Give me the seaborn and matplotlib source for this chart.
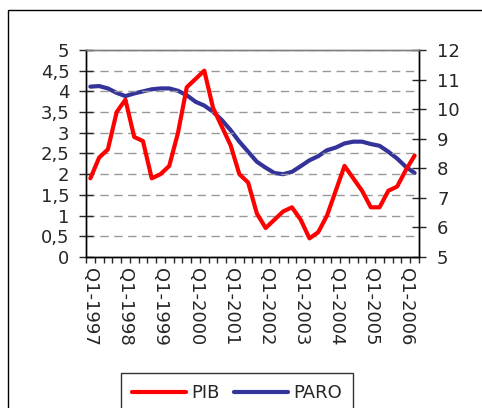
#PIB vs PARO, quarterly 1997-2006, two y axes
import pandas as pd
import numpy as np
import matplotlib
matplotlib.use("Agg")
import matplotlib.pyplot as plt
import seaborn as sns
from matplotlib.ticker import FuncFormatter, FixedLocator

# quarters Q1-1997 .. Q2-2006
years = list(range(1997, 2007))
quarters = [f"Q{q}-{y}" for y in years for q in range(1, 5)][:38]

pib = [1.9, 2.4, 2.6, 3.5, 3.8, 2.9, 2.8, 1.9, 2.0, 2.2,
       3.0, 4.1, 4.3, 4.5, 3.6, 3.15, 2.7, 2.0, 1.8, 1.05,
       0.7, 0.9, 1.1, 1.2, 0.9, 0.45, 0.6, 1.0, 1.6, 2.2,
       1.9, 1.6, 1.2, 1.2, 1.6, 1.7, 2.1, 2.45]
paro = [10.76, 10.78, 10.7, 10.55, 10.44, 10.53, 10.6, 10.67, 10.7, 10.7,
        10.62, 10.47, 10.25, 10.12, 9.91, 9.63, 9.29, 8.9, 8.56, 8.22,
        8.02, 7.84, 7.8, 7.88, 8.07, 8.27, 8.41, 8.61, 8.7, 8.84,
        8.9, 8.9, 8.82, 8.76, 8.56, 8.33, 8.05, 7.84]

df = pd.DataFrame({"quarter": quarters, "PIB": pib, "PARO": paro})
df["pos"] = np.arange(len(df))

sns.set_style("white")
plt.rcParams["font.family"] = ["DejaVu Sans"]

fig = plt.figure(figsize=(4.82, 4.08), dpi=100)
ax = fig.add_axes([0.1784, 0.3701, 0.6909, 0.5074])
ax2 = ax.twinx()

sns.lineplot(x="pos", y="PIB", data=df, ax=ax, color="#ff0000", lw=3.0, legend=False,
             solid_joinstyle="round", solid_capstyle="round")
sns.lineplot(x="pos", y="PARO", data=df, ax=ax2, color="#333399", lw=3.0, legend=False,
             solid_joinstyle="round", solid_capstyle="round")
ax.set_zorder(ax2.get_zorder() + 1)
ax.patch.set_visible(False)

comma = FuncFormatter(lambda v, p: f"{v:g}".replace(".", ","))
ax.set_ylim(0, 5)
ax.set_yticks(np.arange(0, 5.01, 0.5))
ax.yaxis.set_major_formatter(comma)
ax2.set_ylim(5, 12)
ax2.set_yticks(range(5, 13))

ax.set_xlim(-0.5, len(df) - 0.5)
ax.set_xticks(df["pos"][::4])
ax.set_xticklabels(df["quarter"][::4], rotation=-90)
ax.xaxis.set_minor_locator(FixedLocator(np.arange(-0.5, len(df), 1)))

ax.set_xlabel("")
ax.set_ylabel("")
ax2.set_ylabel("")

ax.grid(axis="y", color="#999999", linestyle=(0, (6, 4)), lw=1)
ax.grid(axis="x", visible=False)

for a in (ax, ax2):
    for s in a.spines.values():
        s.set_color("black")
        s.set_linewidth(1)
    a.spines["top"].set_color("#808080")

ax.tick_params(axis="y", direction="inout", length=10, width=1, pad=7, labelsize=13, left=True)
ax.tick_params(axis="x", which="major", length=0, pad=8, labelsize=13, bottom=True)
ax.tick_params(axis="x", which="minor", direction="out", length=4, width=1, bottom=True)
ax2.tick_params(axis="y", direction="inout", length=10, width=1, pad=8, labelsize=13, right=True)

# outer chart frame
fig.patches.append(plt.Rectangle((8 / 482, -0.05), 1.1, 1 - 10 / 408 + 0.05,
                                 transform=fig.transFigure, fill=False,
                                 edgecolor="black", lw=1))

handles = [ax.lines[0], ax2.lines[0]]
fig.legend(handles, ["PIB", "PARO"], loc="upper center", bbox_to_anchor=(237 / 482, 1 - 373 / 408),
           ncol=2, fontsize=13, frameon=True, fancybox=False, edgecolor="black",
           handlelength=3.0, handletextpad=0.3, columnspacing=0.8, borderpad=0.6,
           borderaxespad=0)

fig.savefig("out.png", dpi=100, facecolor="white")
